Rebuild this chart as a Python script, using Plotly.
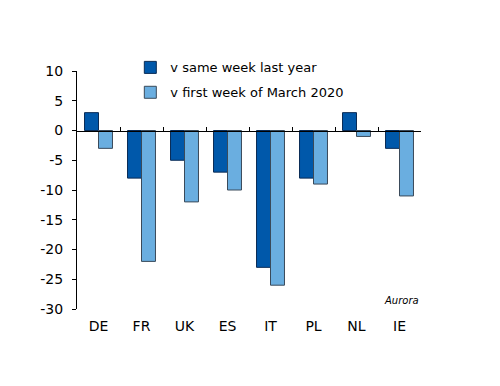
import plotly.graph_objects as go

countries = ["DE", "FR", "UK", "ES", "IT", "PL", "NL", "IE"]
same_week_last_year = [3, -8, -5, -7, -23, -8, 3, -3]
first_week_march_2020 = [-3, -22, -12, -10, -26, -9, -1, -11]
y_ticks = [10, 5, 0, -5, -10, -15, -20, -25, -30]

FONT = "DejaVu Sans"
y_min, y_max = -30, 10

fig = go.Figure()
fig.add_trace(go.Bar(
    x=countries, y=same_week_last_year, name="v same week last year",
    legendgroup="a",
    marker=dict(color="#0058AA", line=dict(color="#0A2B55", width=1)),
))
fig.add_trace(go.Bar(
    x=countries, y=first_week_march_2020, name="v first week of March 2020",
    legendgroup="b",
    marker=dict(color="#6AAEE0", line=dict(color="#3A4A5A", width=1)),
))

fig.update_layout(
    width=500, height=386,
    margin=dict(l=69, r=87, t=63, b=85),
    paper_bgcolor="white", plot_bgcolor="white",
    barmode="group", bargap=0.35, bargroupgap=0,
    font=dict(family=FONT, size=14, color="black"),
    showlegend=True,
    legend=dict(x=0.155, y=1.078, xanchor="left", yanchor="top",
                font=dict(size=13, family=FONT), bgcolor="rgba(0,0,0,0)",
                traceorder="grouped", tracegroupgap=5),
    xaxis=dict(showline=False, ticks="", showgrid=False, zeroline=False,
               tickfont=dict(size=14), ticklabelstandoff=7),
    xaxis2=dict(overlaying="x", matches="x", anchor="free",
                position=(0 - y_min) / (y_max - y_min),
                showline=True, linecolor="black", linewidth=1,
                ticks="inside", tickson="boundaries", ticklen=4, tickcolor="black",
                showticklabels=False, showgrid=False, zeroline=False,
                categoryorder="array", categoryarray=countries),
    yaxis=dict(range=[y_min, y_max], tickvals=y_ticks,
               ticktext=[str(v) for v in y_ticks], showline=True,
               linecolor="black", linewidth=1, ticks="outside", ticklen=4,
               tickcolor="black", showgrid=False, zeroline=False,
               tickfont=dict(size=14), ticklabelstandoff=6),
    annotations=[dict(text="<i>Aurora</i>", x=1.0, y=0.005, xref="paper", yref="paper",
                      xanchor="right", yanchor="bottom", showarrow=False,
                      font=dict(size=10, family=FONT))],
)
# invisible trace to activate the zero-line axis
fig.add_trace(go.Bar(x=countries, y=[None]*len(countries), xaxis="x2",
                     showlegend=False, hoverinfo="skip"))

fig.write_html("out.html")
